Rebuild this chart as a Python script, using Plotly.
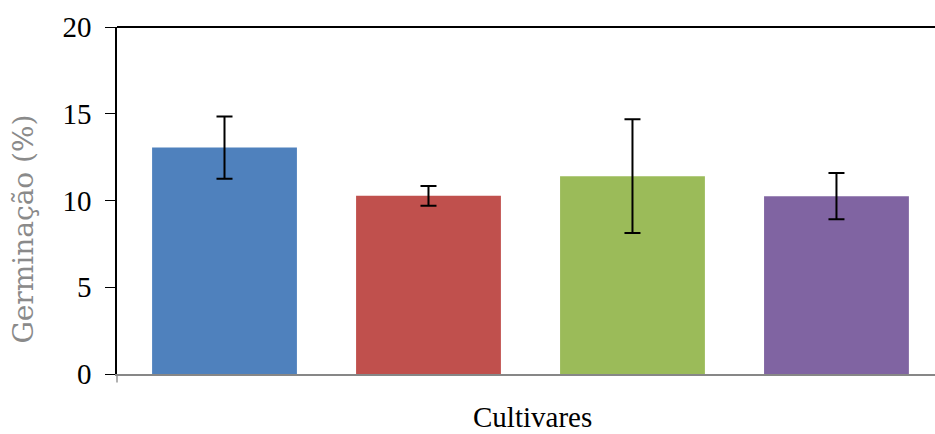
import plotly.graph_objects as go

categories = ["Cultivar 1", "Cultivar 2", "Cultivar 3", "Cultivar 4"]
germination = [13.05, 10.27, 11.40, 10.25]
errors = [1.79, 0.57, 3.28, 1.33]
bar_colors = ["#4F81BD", "#C0504D", "#9BBB59", "#8064A2"]
y_ticks = [0, 5, 10, 15, 20]

fig = go.Figure()
fig.add_trace(go.Bar(
    x=categories,
    y=germination,
    marker=dict(color=bar_colors, line=dict(width=0)),
    error_y=dict(type="data", array=errors, visible=True,
                 color="black", thickness=2, width=8),
    showlegend=False,
    hoverinfo="skip",
))

fig.update_layout(
    width=935, height=434,
    margin=dict(l=117, r=0, t=27, b=59.5, pad=0),
    paper_bgcolor="white", plot_bgcolor="white",
    bargap=0.29,
    font=dict(family="Liberation Serif", color="black"),
    xaxis=dict(
        range=[-0.527, 3.483],
        showticklabels=False, ticks="", showgrid=False, zeroline=False,
        showline=True, linecolor="#878787", linewidth=2,
    ),
    yaxis=dict(
        range=[0, 20], tickvals=y_ticks, ticks="outside", ticklen=10,
        tickcolor="black", tickwidth=1.3, ticklabelstandoff=8,
        showgrid=False, zeroline=False,
        showline=True, linecolor="black", linewidth=1.5,
        tickfont=dict(family="Liberation Serif", size=29, color="black"),
    ),
    shapes=[
        dict(type="line", xref="paper", yref="paper", x0=0, x1=1, y0=1, y1=1,
             line=dict(color="black", width=2)),
        dict(type="line", xref="paper", yref="paper", x0=0, x1=0,
             y0=0, y1=-8.5 / 347.5, line=dict(color="#878787", width=1.3)),
    ],
    annotations=[
        dict(text="Cultivares", xref="paper", yref="paper", x=0.508, y=-0.125,
             xanchor="center", yanchor="middle", showarrow=False,
             font=dict(family="Liberation Serif", size=29, color="black")),
        dict(text="Germinação (%)", xref="paper", yref="paper",
             x=-0.1137, y=0.419, xanchor="center", yanchor="middle",
             textangle=-90, showarrow=False,
             font=dict(family="DejaVu Serif", size=28, color="#8a8a8a")),
    ],
)

fig.write_html(
    "out.html",
    config={"displayModeBar": False},
    post_script="document.body.style.margin='0';document.body.style.overflow='hidden';",
)
